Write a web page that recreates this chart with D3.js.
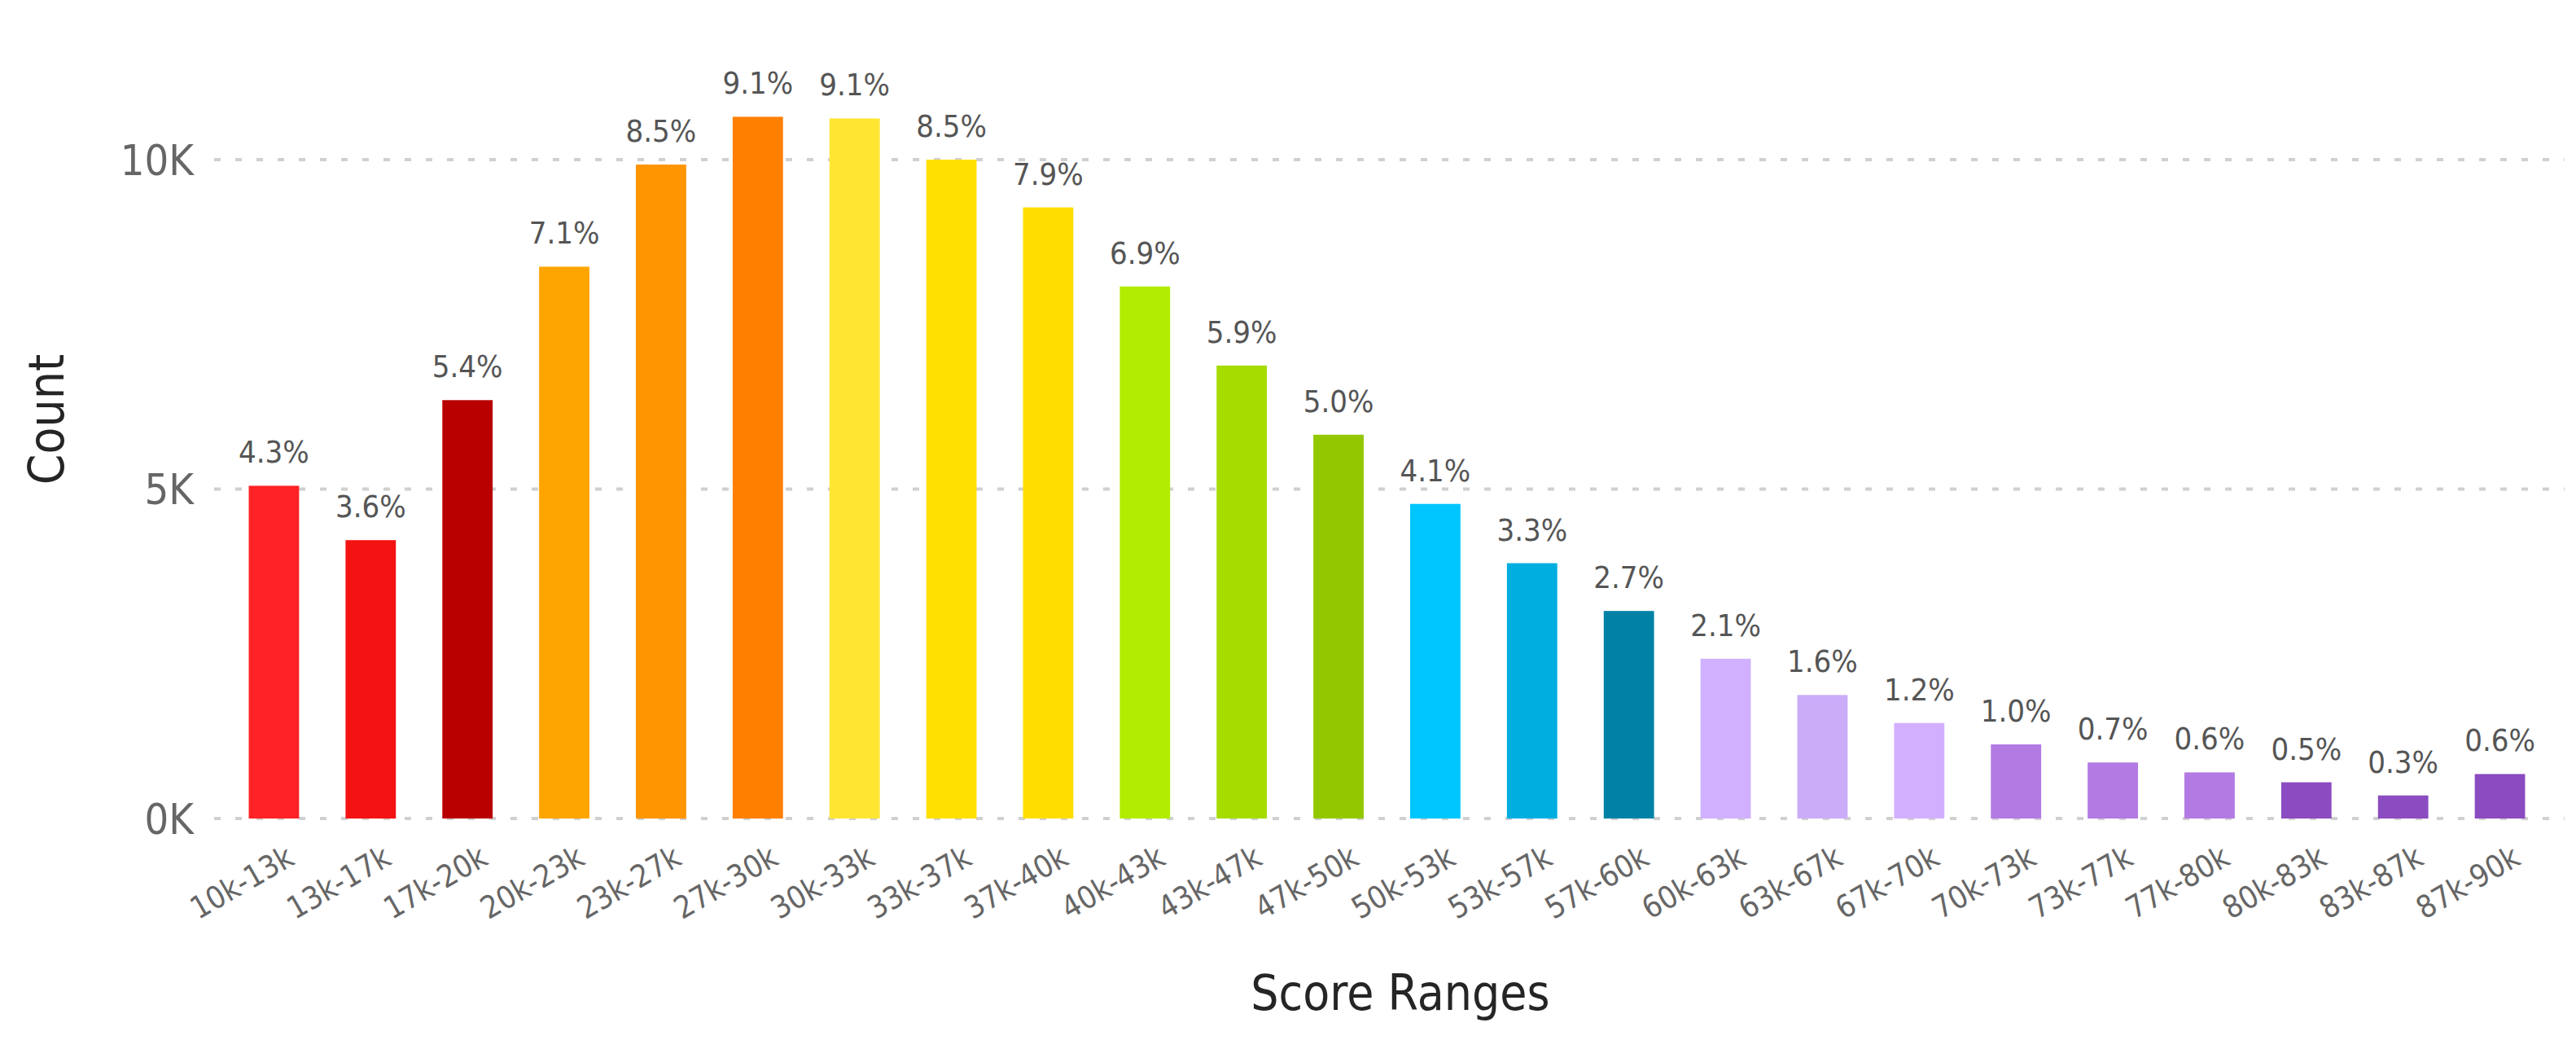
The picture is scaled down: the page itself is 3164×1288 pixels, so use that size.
<!DOCTYPE html>
<html>
<head>
<meta charset="utf-8">
<script src="https://cdn.jsdelivr.net/npm/d3@7.9.0/dist/d3.min.js"></script>
<style>
  body { margin: 0; background: #fff; }
  svg text { font-family: "DejaVu Sans Condensed", "Roboto", sans-serif; }
</style>
</head>
<body>
<svg id="chart"></svg>
<script>
// Score ranges and counts
const categories = ["10k-13k", "13k-17k", "17k-20k", "20k-23k", "23k-27k", "27k-30k", "30k-33k", "33k-37k",
  "37k-40k", "40k-43k", "43k-47k", "47k-50k", "50k-53k", "53k-57k", "57k-60k", "60k-63k", "63k-67k",
  "67k-70k", "70k-73k", "73k-77k", "77k-80k", "80k-83k", "83k-87k", "87k-90k"];
const counts = [5050, 4225, 6350, 8375, 9925, 10650, 10625, 10000, 9275, 8075, 6875, 5825, 4775, 3875,
  3150, 2425, 1875, 1450, 1125, 850, 700, 550, 350, 675];
const percents = ["4.3%", "3.6%", "5.4%", "7.1%", "8.5%", "9.1%", "9.1%", "8.5%", "7.9%", "6.9%", "5.9%",
  "5.0%", "4.1%", "3.3%", "2.7%", "2.1%", "1.6%", "1.2%", "1.0%", "0.7%", "0.6%", "0.5%", "0.3%", "0.6%"];
const barColors = ["#ff2226", "#f51213", "#b80000", "#ffa500", "#ff9500", "#ff7f00", "#ffe633", "#ffe000",
  "#ffdd00", "#b2ec00", "#a6dc00", "#93c800", "#00c6ff", "#00aee0", "#0082a6", "#d0b0ff", "#cbacf9",
  "#d3b0ff", "#b27ae2", "#b27ae2", "#b27ae2", "#8a4cc0", "#8a4cc0", "#8a4cc0"];
const yTicks = [0, 5000, 10000];

const width = 3164, height = 1288;
const margin = { top: 196, right: 14, bottom: 283, left: 263 };

const svg = d3.select("#chart").attr("width", width).attr("height", height);

const x = d3.scaleBand()
  .domain(categories)
  .range([margin.left + 14, width - margin.right - 20])
  .paddingInner(0.48)
  .paddingOuter(0.24);

const y = d3.scaleLinear()
  .domain([0, 10000])
  .range([height - margin.bottom, margin.top]);

// gridlines
svg.append("g")
  .selectAll("line")
  .data(yTicks)
  .join("line")
  .attr("x1", margin.left)
  .attr("x2", width - margin.right)
  .attr("y1", d => y(d))
  .attr("y2", d => y(d))
  .attr("stroke", "#d0d0d0")
  .attr("stroke-width", 4)
  .attr("stroke-dasharray", "8,18");

// y axis labels
svg.append("g")
  .selectAll("text")
  .data(yTicks)
  .join("text")
  .attr("x", 238)
  .attr("y", d => y(d))
  .attr("dy", "0.36em")
  .attr("text-anchor", "end")
  .attr("fill", "#666")
  .attr("font-size", 52)
  .text(d => (d / 1000) + "K");

// bars
svg.append("g")
  .selectAll("rect")
  .data(counts)
  .join("rect")
  .attr("x", (d, i) => x(categories[i]))
  .attr("width", x.bandwidth())
  .attr("y", d => y(d))
  .attr("height", d => y(0) - y(d))
  .attr("fill", (d, i) => barColors[i]);

// percent labels
svg.append("g")
  .selectAll("text")
  .data(counts)
  .join("text")
  .attr("x", (d, i) => x(categories[i]) + x.bandwidth() / 2)
  .attr("y", d => y(d) - 28)
  .attr("text-anchor", "middle")
  .attr("fill", "#555")
  .attr("font-size", 38)
  .text((d, i) => percents[i]);

// x tick labels
svg.append("g")
  .selectAll("text")
  .data(categories)
  .join("text")
  .attr("transform", d => `translate(${x(d) + x.bandwidth() / 2 + 14},${y(0) + 32}) rotate(-30)`)
  .attr("text-anchor", "end")
  .attr("dy", "0.7em")
  .attr("fill", "#666")
  .attr("font-size", 38)
  .text(d => d);

// axis titles
svg.append("text")
  .attr("transform", "translate(78,515) rotate(-90)")
  .attr("text-anchor", "middle")
  .attr("fill", "#252525")
  .attr("font-size", 60)
  .text("Count");

svg.append("text")
  .attr("x", 1720)
  .attr("y", 1240)
  .attr("text-anchor", "middle")
  .attr("fill", "#252525")
  .attr("font-size", 60)
  .text("Score Ranges");
</script>
</body>
</html>
